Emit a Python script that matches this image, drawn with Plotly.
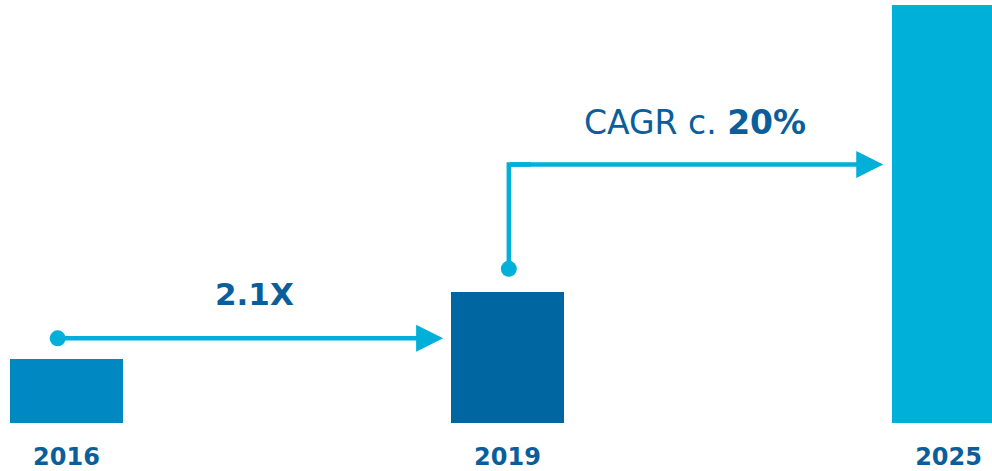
import plotly.graph_objects as go

# ---- data ----
years = ["2016", "2019", "2025"]
values = [1.0, 2.06, 6.56]          # relative market size (2016 = 1)
bar_colors = ["#0088C2", "#0066A1", "#00B0D8"]
growth_label = "2.1X"
cagr_label = "CAGR c. <b>20%</b>"

# ---- styling ----
ARROW = "#00B0D8"
TEXT = "#0A5E9C"
FONT = "DejaVu Sans"
x_pos = list(range(len(years)))
bar_w = 0.256

W, H = 992, 471
fig = go.Figure()
fig.add_trace(go.Bar(x=x_pos, y=values, width=bar_w,
                     marker=dict(color=bar_colors, line=dict(width=0)),
                     hoverinfo="skip", showlegend=False))

# arrow 1: 2016 -> 2019
y1 = values[0] + 0.33
x1_start = x_pos[0] - 0.02
x1_tip = x_pos[1] - bar_w / 2 - 0.018
fig.add_trace(go.Scatter(x=[x1_start], y=[y1], mode="markers",
                         marker=dict(color=ARROW, size=16), showlegend=False, hoverinfo="skip"))
fig.add_annotation(x=x1_tip, y=y1, ax=x1_start, ay=y1, axref="x", ayref="y",
                   xref="x", yref="y", showarrow=True, arrowhead=2, arrowsize=1.2,
                   arrowwidth=4.5, arrowcolor=ARROW, standoff=0, startstandoff=0, text="")

# arrow 2: 2019 -> 2025 (elbow)
y2_dot = values[1] + 0.36
y2 = 4.06
x2 = x_pos[1] + 0.003
x2_tip = x_pos[2] - bar_w / 2 - 0.02
fig.add_trace(go.Scatter(x=[x2, x2, x2 + 0.05], y=[y2_dot, y2, y2], mode="lines",
                         line=dict(color=ARROW, width=4.5), showlegend=False, hoverinfo="skip"))
fig.add_trace(go.Scatter(x=[x2], y=[y2_dot], mode="markers",
                         marker=dict(color=ARROW, size=16), showlegend=False, hoverinfo="skip"))
fig.add_annotation(x=x2_tip, y=y2, ax=x2, ay=y2, axref="x", ayref="y",
                   xref="x", yref="y", showarrow=True, arrowhead=2, arrowsize=1.2,
                   arrowwidth=4.5, arrowcolor=ARROW, standoff=0, startstandoff=0, text="")

# labels
fig.add_annotation(x=0.427, y=2.03, xref="x", yref="y", text="<b>" + growth_label + "</b>",
                   showarrow=False, font=dict(family=FONT, size=31, color=TEXT))
fig.add_annotation(x=1.426, y=4.72, xref="x", yref="y", text=cagr_label,
                   showarrow=False, font=dict(family=FONT, size=33, color=TEXT))

fig.update_layout(
    width=W, height=H,
    margin=dict(l=0, r=0, t=0, b=46),
    paper_bgcolor="white", plot_bgcolor="white",
    xaxis=dict(range=[-0.1508, 2.0986], tickvals=x_pos, ticktext=years,
               showgrid=False, zeroline=False, showline=False, ticks="",
               tickfont=dict(family=FONT, size=24, color=TEXT, weight="bold"),
               ticklabelstandoff=17, fixedrange=True),
    yaxis=dict(range=[0, 6.641], visible=False, fixedrange=True),
    bargap=0,
)
fig.write_html("out.html", config={"displayModeBar": False},
               post_script="document.body.style.margin='0';document.body.style.overflow='hidden';")
